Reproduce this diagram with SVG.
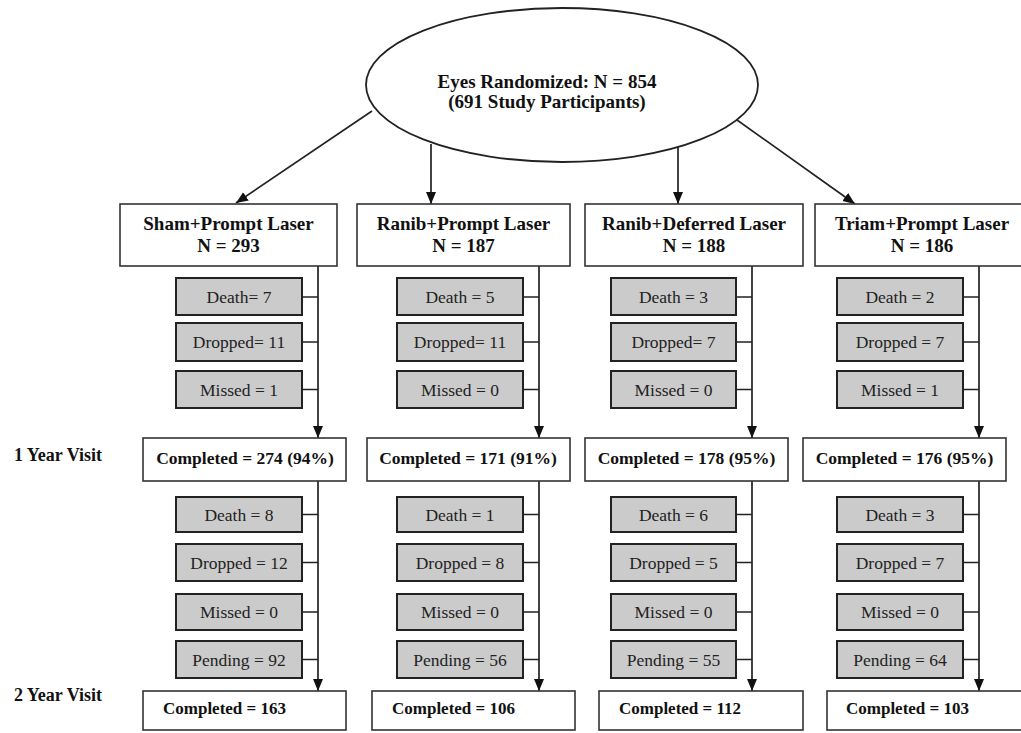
<svg xmlns="http://www.w3.org/2000/svg" width="1021" height="733" viewBox="0 0 1021 733">
<defs>
<marker id="ah" markerUnits="userSpaceOnUse" markerWidth="13" markerHeight="11" refX="12" refY="5" orient="auto">
<path d="M0,0 L12,5 L0,10 z" fill="#111"/>
</marker>
<style>
.box{fill:#fff;stroke:#333;stroke-width:1.6}
.gbox{fill:#cbcbcb;stroke:#222;stroke-width:2}
.ln{fill:none;stroke:#222;stroke-width:1.7}
.ar{fill:none;stroke:#222;stroke-width:1.7;marker-end:url(#ah)}
.b{font-family:"Liberation Serif","Times New Roman",serif;font-weight:bold;fill:#111}
.h{font-size:19px;text-anchor:middle}
.c{font-size:17.5px;text-anchor:middle}
.c2{font-size:17px}
.v{font-size:18px}
.g{font-family:"Liberation Serif","Times New Roman",serif;font-size:17.5px;text-anchor:middle;fill:#222}
</style>
</defs>
<rect width="1021" height="733" fill="#fff"/>

<g id="connectors">
<line class="ar" x1="372" y1="111" x2="236" y2="203"/>
<line class="ar" x1="431" y1="144" x2="431" y2="204"/>
<line class="ar" x1="678" y1="147" x2="678" y2="204"/>
<line class="ar" x1="730" y1="115" x2="855" y2="204"/>
<line class="ar" x1="318" y1="266" x2="318" y2="438"/>
<line class="ar" x1="318" y1="481" x2="318" y2="691"/>
<path class="ln" d="M302,297H318M302,342H318M302,389.5H318M302,514.5H318M302,562.5H318M302,612H318M302,659.5H318"/>
<line class="ar" x1="539" y1="266" x2="539" y2="438"/>
<line class="ar" x1="539" y1="481" x2="539" y2="691"/>
<path class="ln" d="M523,297H539M523,342H539M523,389.5H539M523,514.5H539M523,562.5H539M523,612H539M523,659.5H539"/>
<line class="ar" x1="752" y1="266" x2="752" y2="438"/>
<line class="ar" x1="752" y1="481" x2="752" y2="691"/>
<path class="ln" d="M736,297H752M736,342H752M736,389.5H752M736,514.5H752M736,562.5H752M736,612H752M736,659.5H752"/>
<line class="ar" x1="979" y1="266" x2="979" y2="438"/>
<line class="ar" x1="979" y1="481" x2="979" y2="691"/>
<path class="ln" d="M963,297H979M963,342H979M963,389.5H979M963,514.5H979M963,562.5H979M963,612H979M963,659.5H979"/>
</g>

<g id="root">
<ellipse cx="562" cy="85" rx="196" ry="77" fill="#fff" stroke="#222" stroke-width="1.8"/>
<text class="b h" x="547" y="88">Eyes Randomized: N = 854</text>
<text class="b h" x="547" y="108">(691 Study Participants)</text>
</g>

<g id="labels">
<text class="b v" x="14" y="461">1 Year Visit</text>
<text class="b v" x="14" y="701">2 Year Visit</text>
</g>

<g id="arm1">
<rect class="box" x="120" y="204" width="217" height="62"/>
<text class="b h" x="228.5" y="230">Sham+Prompt Laser</text>
<text class="b h" x="228.5" y="252">N = 293</text>
</g>
<g id="arm1-loss1">
<rect class="gbox" x="176" y="278" width="126" height="37"/><text class="g" x="239" y="302.5">Death= 7</text>
<rect class="gbox" x="176" y="323" width="126" height="38"/><text class="g" x="239" y="348">Dropped= 11</text>
<rect class="gbox" x="176" y="371" width="126" height="37"/><text class="g" x="239" y="395.5">Missed = 1</text>
</g>
<g id="arm1-y1">
<rect class="box" x="143" y="438" width="203" height="43"/>
<text class="b c" x="245" y="464">Completed = 274 (94%)</text>
</g>
<g id="arm1-loss2">
<rect class="gbox" x="176" y="497" width="126" height="35"/><text class="g" x="239" y="520.5">Death = 8</text>
<rect class="gbox" x="176" y="544" width="126" height="37"/><text class="g" x="239" y="568.5">Dropped = 12</text>
<rect class="gbox" x="176" y="594" width="126" height="36"/><text class="g" x="239" y="618">Missed = 0</text>
<rect class="gbox" x="176" y="641" width="126" height="37"/><text class="g" x="239" y="665.5">Pending = 92</text>
</g>
<g id="arm1-y2">
<rect class="box" x="143" y="691" width="203" height="39"/>
<text class="b c2" x="163" y="714">Completed = 163</text>
</g>

<g id="arm2">
<rect class="box" x="357" y="204" width="213" height="62"/>
<text class="b h" x="463.5" y="230">Ranib+Prompt Laser</text>
<text class="b h" x="463.5" y="252">N = 187</text>
</g>
<g id="arm2-loss1">
<rect class="gbox" x="397" y="278" width="126" height="37"/><text class="g" x="460" y="302.5">Death = 5</text>
<rect class="gbox" x="397" y="323" width="126" height="38"/><text class="g" x="460" y="348">Dropped= 11</text>
<rect class="gbox" x="397" y="371" width="126" height="37"/><text class="g" x="460" y="395.5">Missed = 0</text>
</g>
<g id="arm2-y1">
<rect class="box" x="367" y="438" width="203" height="43"/>
<text class="b c" x="468" y="464">Completed = 171 (91%)</text>
</g>
<g id="arm2-loss2">
<rect class="gbox" x="397" y="497" width="126" height="35"/><text class="g" x="460" y="520.5">Death = 1</text>
<rect class="gbox" x="397" y="544" width="126" height="37"/><text class="g" x="460" y="568.5">Dropped = 8</text>
<rect class="gbox" x="397" y="594" width="126" height="36"/><text class="g" x="460" y="618">Missed = 0</text>
<rect class="gbox" x="397" y="641" width="126" height="37"/><text class="g" x="460" y="665.5">Pending = 56</text>
</g>
<g id="arm2-y2">
<rect class="box" x="372" y="691" width="203" height="39"/>
<text class="b c2" x="392" y="714">Completed = 106</text>
</g>

<g id="arm3">
<rect class="box" x="585" y="204" width="218" height="62"/>
<text class="b h" x="694" y="230">Ranib+Deferred Laser</text>
<text class="b h" x="694" y="252">N = 188</text>
</g>
<g id="arm3-loss1">
<rect class="gbox" x="611" y="278" width="125" height="37"/><text class="g" x="673.5" y="302.5">Death = 3</text>
<rect class="gbox" x="611" y="323" width="125" height="38"/><text class="g" x="673.5" y="348">Dropped= 7</text>
<rect class="gbox" x="611" y="371" width="125" height="37"/><text class="g" x="673.5" y="395.5">Missed = 0</text>
</g>
<g id="arm3-y1">
<rect class="box" x="585" y="438" width="203" height="43"/>
<text class="b c" x="686.5" y="464">Completed = 178 (95%)</text>
</g>
<g id="arm3-loss2">
<rect class="gbox" x="611" y="497" width="125" height="35"/><text class="g" x="673.5" y="520.5">Death = 6</text>
<rect class="gbox" x="611" y="544" width="125" height="37"/><text class="g" x="673.5" y="568.5">Dropped = 5</text>
<rect class="gbox" x="611" y="594" width="125" height="36"/><text class="g" x="673.5" y="618">Missed = 0</text>
<rect class="gbox" x="611" y="641" width="125" height="37"/><text class="g" x="673.5" y="665.5">Pending = 55</text>
</g>
<g id="arm3-y2">
<rect class="box" x="599" y="691" width="204" height="39"/>
<text class="b c2" x="619" y="714">Completed = 112</text>
</g>

<g id="arm4">
<rect class="box" x="815" y="204" width="214" height="62"/>
<text class="b h" x="922" y="230">Triam+Prompt Laser</text>
<text class="b h" x="922" y="252">N = 186</text>
</g>
<g id="arm4-loss1">
<rect class="gbox" x="837" y="278" width="126" height="37"/><text class="g" x="900" y="302.5">Death = 2</text>
<rect class="gbox" x="837" y="323" width="126" height="38"/><text class="g" x="900" y="348">Dropped = 7</text>
<rect class="gbox" x="837" y="371" width="126" height="37"/><text class="g" x="900" y="395.5">Missed = 1</text>
</g>
<g id="arm4-y1">
<rect class="box" x="803" y="438" width="203" height="43"/>
<text class="b c" x="904.5" y="464">Completed = 176 (95%)</text>
</g>
<g id="arm4-loss2">
<rect class="gbox" x="837" y="497" width="126" height="35"/><text class="g" x="900" y="520.5">Death = 3</text>
<rect class="gbox" x="837" y="544" width="126" height="37"/><text class="g" x="900" y="568.5">Dropped = 7</text>
<rect class="gbox" x="837" y="594" width="126" height="36"/><text class="g" x="900" y="618">Missed = 0</text>
<rect class="gbox" x="837" y="641" width="126" height="37"/><text class="g" x="900" y="665.5">Pending = 64</text>
</g>
<g id="arm4-y2">
<rect class="box" x="827" y="691" width="204" height="39"/>
<text class="b c2" x="846" y="714">Completed = 103</text>
</g>
</svg>
